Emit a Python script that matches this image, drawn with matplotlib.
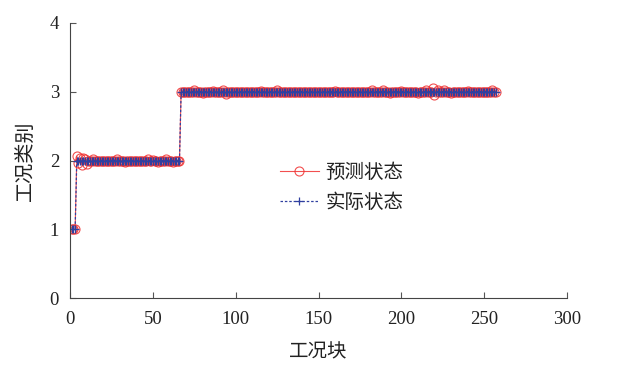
import numpy as np
import matplotlib
matplotlib.use('Agg')
import matplotlib.pyplot as plt

# 字体: 数字用衬线体, 中文用CJK
plt.rcParams['font.family'] = ['Liberation Serif', 'Noto Sans CJK SC']
plt.rcParams['axes.unicode_minus'] = False

# 实际状态: (类别, 连续工况块数)
actual_runs = [(1, 3), (2, 63), (3, 191)]

# 预测状态与实际状态不同的工况块
pred_dev = {
    4: 2.06, 5: 1.97, 6: 2.03, 7: 1.93, 8: 2.04, 9: 2.02, 10: 1.95,
    14: 2.02, 20: 1.99, 28: 2.02, 33: 1.98, 40: 1.99, 47: 2.02, 50: 2.01,
    53: 1.98, 58: 2.02, 62: 1.98,
    75: 3.02, 80: 2.98, 86: 3.01, 92: 3.02, 94: 2.97, 96: 2.99, 115: 3.01,
    125: 3.02, 140: 2.99, 160: 3.01, 172: 2.99, 182: 3.02, 189: 3.02,
    193: 2.98, 200: 3.01, 210: 2.98, 215: 3.02, 219: 3.05, 220: 2.95,
    222: 3.03, 226: 3.03, 230: 2.98, 240: 3.01, 250: 2.99, 255: 3.02,
}

actual = []
for cls, n in actual_runs:
    actual += [cls] * n
actual = np.array(actual, dtype=float)
blocks = np.arange(1, len(actual) + 1)
predicted = actual.copy()
for k, v in pred_dev.items():
    predicted[k - 1] = v

fig = plt.figure(figsize=(6.21, 3.75), dpi=100)
ax = fig.add_axes([0.113, 0.205, 0.8, 0.734])

ax.plot(blocks, predicted, color='#f03030', lw=0.8, marker='o', ms=6.5,
        mfc='none', mec='#f03030', mew=0.8, alpha=0.85, label='预测状态')
ax.plot(blocks, actual, color='#3040a0', lw=0.9, ls='--', dashes=(2, 1.5),
        marker='+', ms=6, mew=0.9, label='实际状态')

ax.set_xlim(0, 300)
ax.set_ylim(0, 4)
ax.set_xticks([0, 50, 100, 150, 200, 250, 300])
ax.set_yticks([0, 1, 2, 3, 4])
ax.tick_params(direction='in', labelsize=13.5, length=4, color='#555555',
               labelcolor='#222222')
ax.tick_params(axis='x', pad=9)
ax.tick_params(axis='y', pad=8)
for s in ['top', 'right']:
    ax.spines[s].set_visible(False)
for s in ['left', 'bottom']:
    ax.spines[s].set_color('#444444')

ax.set_xlabel('工况块', fontsize=14, labelpad=12, color='#222222')
ax.set_ylabel('工况类别', fontsize=14.5, labelpad=10, color='#222222')

ax.legend(loc='center', bbox_to_anchor=(0.55, 0.50), bbox_transform=fig.transFigure,
          frameon=False, fontsize=14, handlelength=2.0, handletextpad=0.35,
          labelspacing=0.6, labelcolor='#222222')

fig.savefig('out.png', dpi=100)
